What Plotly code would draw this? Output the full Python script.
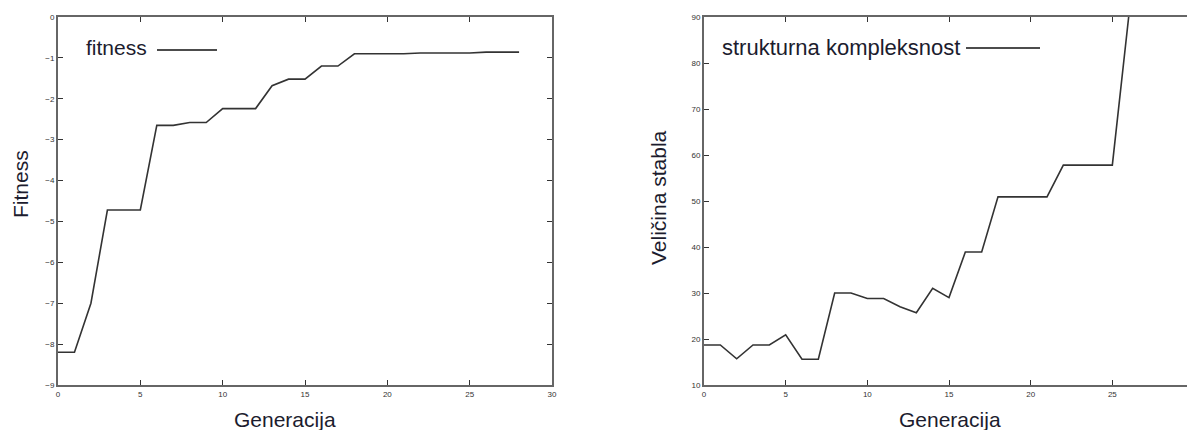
import plotly.graph_objects as go

# Data
gen_fit = list(range(0, 29))
fitness = [-8.2, -8.2, -7.0, -4.72, -4.72, -4.72, -2.65, -2.65, -2.58, -2.58,
           -2.24, -2.24, -2.24, -1.68, -1.52, -1.52, -1.2, -1.2, -0.9, -0.9,
           -0.9, -0.9, -0.88, -0.88, -0.88, -0.88, -0.86, -0.86, -0.86]

gen_size = list(range(0, 27))
tree_size = [18.7, 18.7, 15.7, 18.7, 18.7, 20.9, 15.6, 15.6, 30, 30,
             28.8, 28.8, 27, 25.7, 31, 29, 38.9, 38.9, 50.9, 50.9,
             50.9, 50.9, 57.8, 57.8, 57.8, 57.8, 90]

x_ticks = [0, 5, 10, 15, 20, 25, 30]
fit_ticks = [0, -1, -2, -3, -4, -5, -6, -7, -8, -9]
size_ticks = [10, 20, 30, 40, 50, 60, 70, 80, 90]

# page body has an 8px default margin; size the figure so it fills the window
OFF = 8
W, H = 1195 - OFF, 430 - OFF
def px(x):
    return (x - OFF) / W
def py(y):
    return 1 - (y - OFF) / H

line_col = "#333333"
fig = go.Figure()
fig.add_trace(go.Scatter(x=gen_fit, y=fitness, mode="lines",
                         line=dict(color=line_col, width=1.6), xaxis="x", yaxis="y",
                         showlegend=False))
fig.add_trace(go.Scatter(x=gen_size, y=tree_size, mode="lines",
                         line=dict(color=line_col, width=1.6), xaxis="x2", yaxis="y2",
                         showlegend=False, cliponaxis=True))

ax_common = dict(showgrid=False, zeroline=False, showline=True, linecolor="#666666",
                 linewidth=2, mirror="ticks", ticks="inside", ticklen=5,
                 tickcolor="#333333", tickwidth=1, automargin=False,
                 tickfont=dict(family="Liberation Sans, Arial", size=8, color="#333333"))

yd = [py(385), py(17)]
fig.update_layout(
    width=W, height=H,
    margin=dict(l=0, r=0, t=0, b=0, pad=0, autoexpand=False),
    paper_bgcolor="white", plot_bgcolor="white",
    xaxis=dict(domain=[px(58), px(552)], range=[0, 30], tickvals=x_ticks, anchor="y", **ax_common),
    yaxis=dict(domain=yd, range=[-9, 0], tickvals=fit_ticks, anchor="x", **ax_common),
    xaxis2=dict(domain=[px(704), px(1194)], range=[0, 30], tickvals=x_ticks, anchor="y2", **ax_common),
    yaxis2=dict(domain=yd, range=[10, 90], tickvals=size_ticks, anchor="x2", **ax_common),
)

title_font = dict(family="Liberation Sans, Arial", size=21, color="#1c1c2e")
ann = [
    dict(text="Generacija", x=px(285), y=py(419), xref="paper", yref="paper",
         showarrow=False, font=title_font, xanchor="center", yanchor="middle"),
    dict(text="Generacija", x=px(950), y=py(419), xref="paper", yref="paper",
         showarrow=False, font=title_font, xanchor="center", yanchor="middle"),
    dict(text="Fitness", x=px(20), y=py(184), xref="paper", yref="paper", textangle=-90,
         showarrow=False, font=title_font, xanchor="center", yanchor="middle"),
    dict(text="Veličina stabla", x=px(658), y=py(198), xref="paper", yref="paper", textangle=-90,
         showarrow=False, font=title_font, xanchor="center", yanchor="middle"),
    dict(text="fitness", x=px(84), y=py(48), xref="paper", yref="paper",
         showarrow=False, font=dict(family="Liberation Sans, Arial", size=21, color="#1c1c2e"),
         xanchor="left", yanchor="middle"),
    dict(text="strukturna kompleksnost", x=px(720), y=py(48), xref="paper", yref="paper",
         showarrow=False, font=dict(family="Liberation Sans, Arial", size=22, color="#1c1c2e"),
         xanchor="left", yanchor="middle"),
]
shapes = [
    dict(type="line", xref="paper", yref="paper", x0=px(157), x1=px(217), y0=py(50), y1=py(50),
         line=dict(color="#111111", width=1.6)),
    dict(type="line", xref="paper", yref="paper", x0=px(966), x1=px(1040), y0=py(48), y1=py(48),
         line=dict(color="#111111", width=1.6)),
]
fig.update_layout(annotations=ann, shapes=shapes)
fig.write_html("out.html")
